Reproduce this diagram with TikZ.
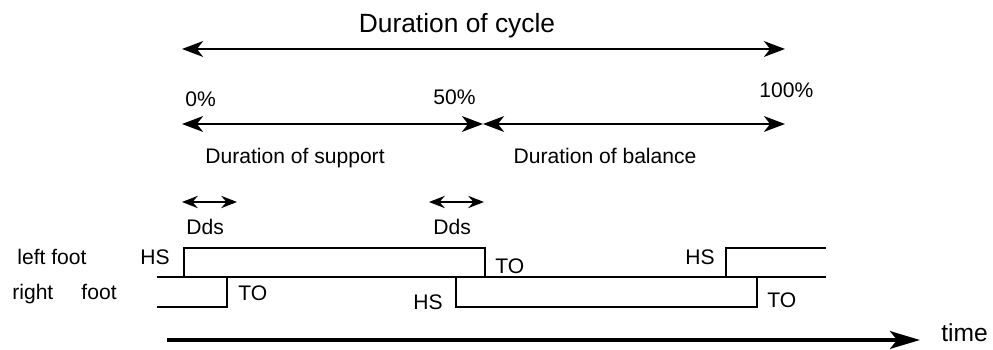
\documentclass[tikz,border=0pt]{standalone}
\usepackage{fontspec}
\setmainfont{Liberation Sans}
\usetikzlibrary{arrows.meta}

\begin{document}
\begin{tikzpicture}[x=0.02cm,y=-0.02cm,
    txt/.style={font=\fontsize{12}{14}\selectfont, inner sep=0pt, anchor=base west},
    bigtxt/.style={font=\fontsize{15}{18}\selectfont, inner sep=0pt, anchor=base},
    span/.style={line width=1.1pt, {Stealth[length=12pt,width=9pt,inset=3.5pt]}-{Stealth[length=12pt,width=9pt,inset=3.5pt]}},
    short/.style={line width=0.8pt, {Stealth[length=9pt,width=7pt,inset=3pt]}-{Stealth[length=9pt,width=7pt,inset=3pt]}},
    wave/.style={line width=1.1pt}]
    \useasboundingbox (0,0) rectangle (993,350);

    % cycle
    \node (cyc) [bigtxt] at (457,33) {Duration of cycle};
    \coordinate (p0) at (182,49);
    \coordinate (p100) at (785,49);
    \path[span] (p0) edge (p100);

    % percentages
    \node (n0) [txt] at (185,107) {0\%};
    \node (n50) [txt] at (433,105) {50\%};
    \node (n100) [txt] at (759,98) {100\%};
    \coordinate (q0) at (182,124);
    \coordinate (q50) at (483,124);
    \coordinate (q100) at (785,124);
    \path[span] (q0) edge (q50);
    \path[span] (q50) edge (q100);
    \node (sup) [txt, anchor=base] at (295,164) {Duration of support};
    \node (bal) [txt, anchor=base] at (605,164) {Duration of balance};

    % double support
    \coordinate (d1a) at (182,202);
    \coordinate (d1b) at (237,202);
    \coordinate (d2a) at (429,202);
    \coordinate (d2b) at (484,202);
    \path[short] (d1a) edge (d1b);
    \path[short] (d2a) edge (d2b);
    \node (dds1) [txt] at (186,235) {Dds};
    \node (dds2) [txt] at (433,235) {Dds};

    % feet
    \node (lf) [txt] at (17,265) {left foot};
    \node (rf) [txt] at (12,300) {right\hspace{16pt}foot};
    \draw[wave] (157,277) -- (826,277);
    \draw[wave] (157,277) -- (184,277) -- (184,248) -- (485,248) -- (485,277)
        -- (726,277) -- (726,248) -- (826,248);
    \draw[wave] (157,307) -- (227,307) -- (227,277) -- (456,277) -- (456,307)
        -- (757,307) -- (757,277) -- (826,277);
    \node (hs1) [txt] at (140,265) {HS};
    \node (to1) [txt] at (238,301) {TO};
    \node (hs2) [txt] at (413,310) {HS};
    \node (to2) [txt] at (495,274) {TO};
    \node (hs3) [txt] at (685,265) {HS};
    \node (to3) [txt] at (767,308) {TO};

    % time axis
    \coordinate (t0) at (167,340);
    \coordinate (t1) at (920,340);
    \draw[line width=2.5pt, -{Stealth[length=17pt,width=10pt,inset=4pt]}] (t0) -- (t1);
    \node (time) [txt, font=\fontsize{14}{16}\selectfont] at (941,342) {time};
\end{tikzpicture}
\end{document}
